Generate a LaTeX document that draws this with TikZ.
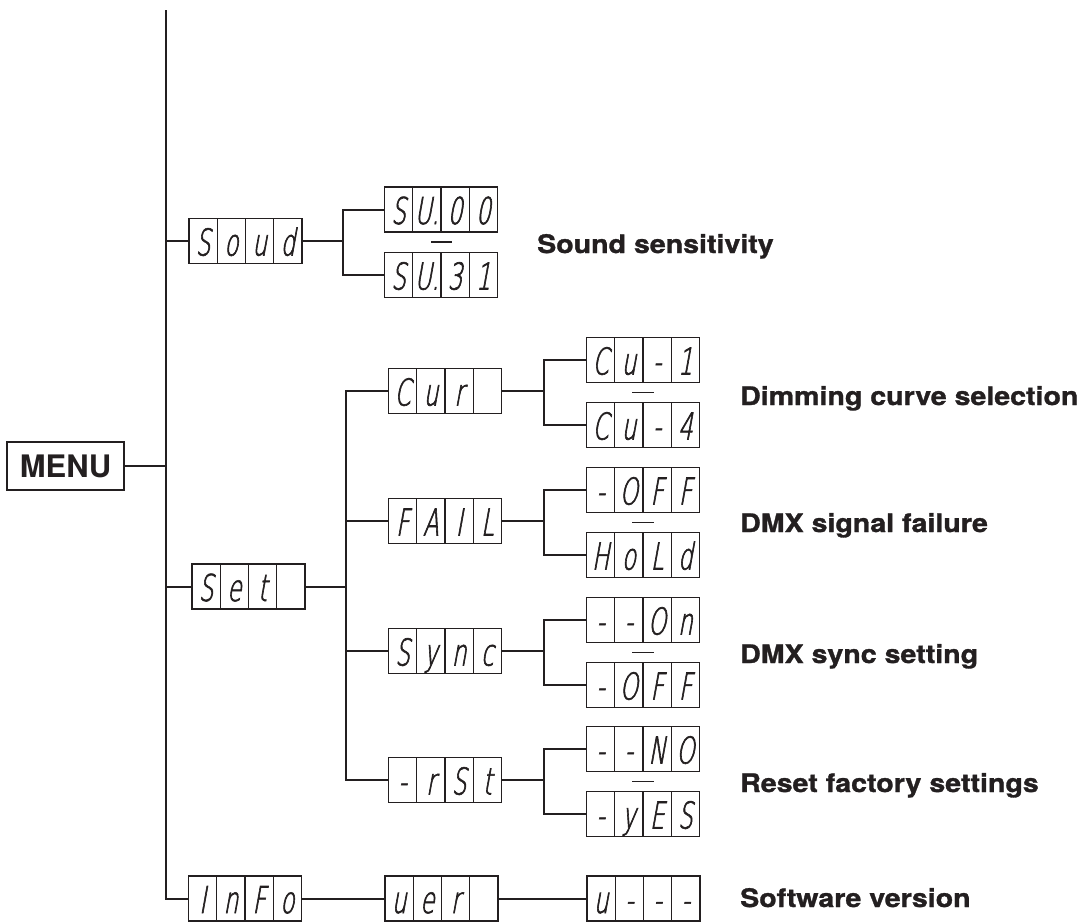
\documentclass[tikz,border=0pt]{standalone}
\usepackage{fontspec}
\setmainfont{TeX Gyre Heros}
\newfontfamily\segfont[FakeSlant=0.18,FakeStretch=0.62,FakeBold=1.6]{DejaVu Sans ExtraLight}
\newfontfamily\labfont[FakeStretch=1.12,FakeBold=1.2]{TeX Gyre Heros}
\usetikzlibrary{calc}
\definecolor{ink}{HTML}{231F20}
\newcommand\dsp[6]{%
  \node[dispbox] (#1) at (#2) {};
  \foreach \k in {1,2,3}{\draw[cellline] ($(#1.north west)+(\k*28.25,0)$) -- ($(#1.south west)+(\k*28.25,0)$);}
  \node[segch] at ($(#1.south west)+(14.1,-8)$) {#3};
  \node[segch] at ($(#1.south west)+(42.4,-8)$) {#4};
  \node[segch] at ($(#1.south west)+(70.6,-8)$) {#5};
  \node[segch] at ($(#1.south west)+(98.9,-8)$) {#6};
}
\begin{document}
\begin{tikzpicture}[x=1pt,y=-1pt,
  conn/.style={line width=2pt, draw=ink},
  dispbox/.style={draw=ink, line width=1.7pt, minimum width=113pt, minimum height=45pt, inner sep=0pt, outer sep=0pt},
  cellline/.style={draw=ink, line width=1.4pt},
  segch/.style={font=\segfont\fontsize{37}{37}\selectfont, anchor=base, inner sep=0pt, text=ink},
  lbl/.style={font=\labfont\bfseries\fontsize{25.5}{28}\selectfont, anchor=base west, inner sep=0pt, text=ink},
  menubox/.style={draw=ink, line width=1.8pt, minimum width=117pt, minimum height=48pt, inner sep=0pt, outer sep=0pt, font=\bfseries\fontsize{31}{31}\selectfont, text=ink},
  bar/.style={line width=1.6pt, draw=ink}]
\useasboundingbox (0,0) rectangle (1087,922);

% MENU
\node[menubox] (menu) at (65.5,466) {MENU};
\coordinate (top) at (166,10);

% displays
\dsp{soud}{245.5,241}{S}{o}{u}{d}
\dsp{su0}{441,209.5}{S}{U.}{0}{0}
\dsp{su31}{441,275}{S}{U.}{3}{1}
\dsp{set}{248.5,586.5}{S}{e}{t}{}
\dsp{cur}{445,391}{C}{u}{r}{}
\dsp{cu1}{643,360}{C}{u}{-}{1}
\dsp{cu4}{643,425}{C}{u}{-}{4}
\dsp{fail}{445,521}{F}{A}{I}{L}
\dsp{offa}{643,490}{-}{O}{F}{F}
\dsp{hold}{643,555}{H}{o}{L}{d}
\dsp{sync}{445,651}{S}{y}{n}{c}
\dsp{on}{643,620}{-}{-}{O}{n}
\dsp{offb}{643,685}{-}{O}{F}{F}
\dsp{rst}{445,780}{-}{r}{S}{t}
\dsp{no}{643,749}{-}{-}{N}{O}
\dsp{yes}{643,814}{-}{y}{E}{S}
\dsp{info}{245,898.5}{I}{n}{F}{o}
\dsp{ver}{441.5,898.5}{u}{e}{r}{}
\dsp{vv}{643.5,898.5}{u}{-}{-}{-}

% main spine
\draw[conn] (top) |- (info.west);
\draw[conn] (menu.east) -- (menu.east -| top);
\draw[conn] (top |- soud) -- (soud.west);
\draw[conn] (top |- set) -- (set.west);

% sound branch
\coordinate (sj) at (343,241);
\draw[conn] (soud.east) -- (sj);
\draw[conn] (su0.west) -| (sj) |- (su31.west);
\coordinate (d1a) at (431,242); \coordinate (d1b) at (452,242);
\draw[bar] (d1a) -- (d1b);

% set branch
\coordinate (sv) at (346,586.5);
\draw[conn] (set.east) -- (sv);
\draw[conn] (cur.west) -| (sv) |- (rst.west);
\draw[conn] (fail.west) -- (fail.west -| sv);
\draw[conn] (sync.west) -- (sync.west -| sv);

% sub branches
\foreach \g/\a/\b/\yy in {cur/cu1/cu4/392.5, fail/offa/hold/522.5, sync/on/offb/652.5, rst/no/yes/781.5}{
  \draw[conn] (\g.east) -- (\g.east -| 544,0);
  \draw[conn] (\a.west) -| (544,0 |- \g) |- (\b.west);
  \coordinate (da\g) at (632,\yy); \coordinate (db\g) at (654,\yy);
  \draw[bar] (da\g) -- (db\g);
}

% info row
\draw[conn] (info.east) -- (ver.west);
\draw[conn] (ver.east) -- (vv.west);

% labels
\node[lbl] (l1) at (537,253) {Sound sensitivity};
\node[lbl] (l2) at (740,405) {Dimming curve selection};
\node[lbl] (l3) at (740,532) {DMX signal failure};
\node[lbl] (l4) at (740,663) {DMX sync setting};
\node[lbl] (l5) at (740,792) {Reset factory settings};
\node[lbl] (l6) at (740,907) {Software version};
\end{tikzpicture}
\end{document}
